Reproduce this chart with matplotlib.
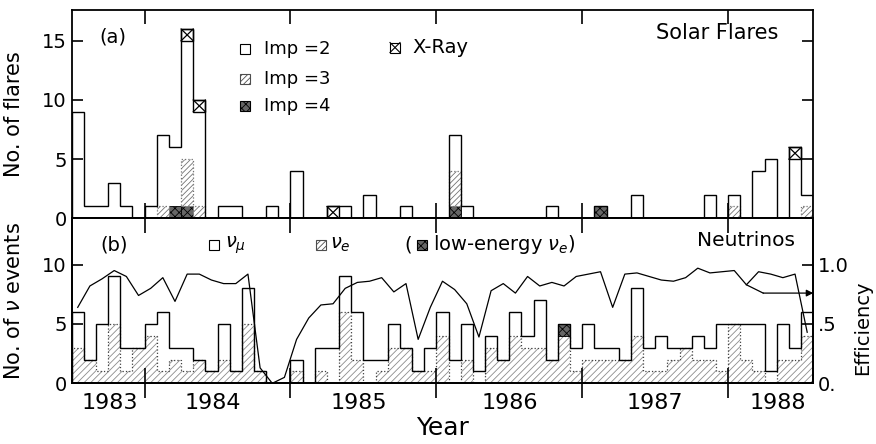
import numpy as np
import matplotlib.pyplot as plt
from matplotlib.patches import Rectangle

plt.rcParams['font.family'] = 'DejaVu Sans'
plt.rcParams['hatch.linewidth'] = 0.6

# monthly bins, Jul 1983 .. Jul 1988
start_year = 1983.5
n_months = 61

# --- (a) solar flares per month (rows: Jul..Jun) ---
imp2 = [9, 1, 1, 3, 1, 0, 1, 6, 5, 10, 8, 0,
        1, 1, 0, 0, 1, 0, 4, 0, 0, 0, 1, 0,
        2, 0, 0, 1, 0, 0, 0, 3, 1, 0, 0, 0,
        0, 0, 0, 1, 0, 0, 0, 0, 0, 0, 2, 0,
        0, 0, 0, 0, 2, 0, 1, 0, 4, 5, 0, 5,
        1]
imp3 = [0, 0, 0, 0, 0, 0, 0, 1, 0, 4, 1, 0,
        0, 0, 0, 0, 0, 0, 0, 0, 0, 0, 0, 0,
        0, 0, 0, 0, 0, 0, 0, 3, 0, 0, 0, 0,
        0, 0, 0, 0, 0, 0, 0, 0, 0, 0, 0, 0,
        0, 0, 0, 0, 0, 0, 1, 0, 0, 0, 0, 0,
        1]
imp4 = [0, 0, 0, 0, 0, 0, 0, 0, 1, 1, 0, 0,
        0, 0, 0, 0, 0, 0, 0, 0, 0, 0, 0, 0,
        0, 0, 0, 0, 0, 0, 0, 1, 0, 0, 0, 0,
        0, 0, 0, 0, 0, 0, 0, 1, 0, 0, 0, 0,
        0, 0, 0, 0, 0, 0, 0, 0, 0, 0, 0, 0,
        0]
xray = [0, 0, 0, 0, 0, 0, 0, 0, 0, 1, 1, 0,
        0, 0, 0, 0, 0, 0, 0, 0, 0, 1, 0, 0,
        0, 0, 0, 0, 0, 0, 0, 0, 0, 0, 0, 0,
        0, 0, 0, 0, 0, 0, 0, 0, 0, 0, 0, 0,
        0, 0, 0, 0, 0, 0, 0, 0, 0, 0, 0, 1,
        0]

# --- (b) neutrino events per month ---
nu_mu = [3, 0, 4, 4, 2, 0, 1, 5, 1, 2, 0, 0,
         3, 0, 3, 0, 0, 0, 1, 0, 2, 3, 3, 4,
         2, 1, 2, 0, 0, 2, 2, 2, 3, 1, 1, 0,
         2, 1, 4, 0, 0, 2, 3, 1, 1, 0, 4, 2,
         3, 1, 0, 2, 1, 4, 0, 3, 4, 1, 3, 1,
         2]
nu_e = [3, 2, 1, 5, 1, 3, 4, 1, 2, 1, 2, 1,
        2, 1, 5, 1, 0, 0, 1, 0, 1, 0, 6, 2,
        0, 1, 3, 3, 1, 1, 4, 0, 2, 0, 3, 2,
        4, 3, 3, 2, 4, 1, 2, 2, 2, 2, 4, 1,
        1, 2, 3, 2, 2, 1, 5, 2, 1, 0, 2, 2,
        4]
nu_e_low = [0] * 40 + [1] + [0] * 20
efficiency = [.64, .82, .88, .95, .90, .74, .80, .89, .69, .92, .92, .87,
              .84, .84, .92, .13, .00, .05, .37, .55, .66, .67, .80, .85,
              .86, .89, .77, .84, .37, .64, .86, .79, .67, .39, .78, .84,
              .76, .90, .82, .85, .82, .90, .92, .94, .64, .92, .93, .90,
              .87, .86, .89, .97, .93, .94, .95, .83, .94, .92, .89, .92,
              .43]

year_ticks = [1984, 1985, 1986, 1987, 1988]
year_labels = ['1983', '1984', '1985', '1986', '1987', '1988']
year_label_pos = [1983.76, 1984.47, 1985.47, 1986.5, 1987.5, 1988.34]

imp2, imp3, imp4, xray = map(np.array, (imp2, imp3, imp4, xray))
nu_mu, nu_e, nu_e_low = map(np.array, (nu_mu, nu_e, nu_e_low))
efficiency = np.array(efficiency)

edges = start_year + np.arange(n_months + 1) / 12.0
left = edges[:-1]
centers = left + 1 / 24.0
w = 1 / 12.0

fig = plt.figure(figsize=(8.76, 4.44), dpi=100)
ax1 = fig.add_axes([0.0818, 0.5083, 0.8466, 0.4691])
ax2 = fig.add_axes([0.0818, 0.1367, 0.8466, 0.3716])

# ---------------- (a) Solar flares ----------------
flare_total = imp2 + imp3 + imp4 + xray
m = imp4 > 0
ax1.bar(left[m], imp4[m], width=w, align='edge', facecolor='0.4',
        edgecolor='black', hatch='xxxx', lw=0.6)
m = imp3 > 0
ax1.bar(left[m], imp3[m], bottom=imp4[m], width=w, align='edge',
        facecolor='white', edgecolor='0.45', hatch='//////', lw=0.9, linestyle=':')
m = xray > 0
ax1.bar(left[m], xray[m], bottom=(flare_total - xray)[m], width=w, align='edge',
        facecolor='white', edgecolor='black', lw=1.0)
for i in np.nonzero(xray)[0]:
    y0, y1 = flare_total[i] - xray[i], flare_total[i]
    ax1.plot([left[i], left[i] + w], [y0, y1], color='black', lw=0.9)
    ax1.plot([left[i], left[i] + w], [y1, y0], color='black', lw=0.9)
ax1.stairs(flare_total, edges, baseline=0, color='black', lw=1.0)

ax1.set_xlim(edges[0], edges[-1])
ax1.set_ylim(0, 17.6)
ax1.set_yticks([0, 5, 10, 15])
ax1.set_xticks(year_ticks)
ax1.tick_params(axis='x', direction='in', top=True, bottom=False,
                labelbottom=False, length=10, width=1.2)
ax1.tick_params(axis='y', direction='in', left=True, right=True,
                length=8, width=1.2, labelsize=14)
ax1.set_ylabel('No. of flares', fontsize=15)
ax1.yaxis.set_label_coords(-0.064, 0.5)

# legend of panel (a)
sq_w, sq_h = 0.0135, 0.048
t = ax1.transAxes
ax1.text(0.0557, 0.87, '(a)', transform=t, fontsize=14, ha='center', va='center')
legend_a = [('Imp =2', 0.815, dict(facecolor='white')),
            ('Imp =3', 0.671, dict(facecolor='white', hatch='//////', edgecolor='0.3')),
            ('Imp =4', 0.537, dict(facecolor='0.4', hatch='xxxx'))]
for lab, yc, kw in legend_a:
    kw.setdefault('edgecolor', 'black')
    ax1.add_patch(Rectangle((0.2337 - sq_w / 2, yc - sq_h / 2), sq_w, sq_h,
                            transform=t, lw=0.8, **kw))
    ax1.text(0.2593, yc, lab, transform=t, fontsize=13, va='center')
ax1.add_patch(Rectangle((0.436 - sq_w / 2, 0.82 - sq_h / 2), sq_w, sq_h,
                        transform=t, facecolor='white', edgecolor='black', lw=0.8))
ax1.plot([0.436 - sq_w / 2, 0.436 + sq_w / 2], [0.82 - sq_h / 2, 0.82 + sq_h / 2],
         transform=t, color='black', lw=0.8)
ax1.plot([0.436 - sq_w / 2, 0.436 + sq_w / 2], [0.82 + sq_h / 2, 0.82 - sq_h / 2],
         transform=t, color='black', lw=0.8)
ax1.text(0.460, 0.82, 'X-Ray', transform=t, fontsize=14, va='center')
ax1.text(0.870, 0.889, 'Solar Flares', transform=t, fontsize=15,
         ha='center', va='center')

# ---------------- (b) Neutrinos ----------------
nu_total = nu_mu + nu_e + nu_e_low
ax2.stairs(nu_e, edges, baseline=0, fill=True, facecolor='white',
           edgecolor='0.55', hatch='/////', lw=0)
ax2.stairs(nu_e, edges, baseline=0, color='0.25', lw=0.9, linestyle=':')
m = nu_e_low > 0
ax2.bar(left[m], nu_e_low[m], bottom=nu_e[m], width=w, align='edge',
        facecolor='0.4', edgecolor='black', hatch='xxxx', lw=0.6)
ax2.stairs(nu_total, edges, baseline=0, color='black', lw=1.0)

ax2.set_xlim(edges[0], edges[-1])
ax2.set_ylim(0, 13.9)
ax2.set_yticks([0, 5, 10])
ax2.set_xticks(year_ticks)
ax2.set_xticks(year_label_pos, minor=True)
ax2.set_xticklabels(year_labels, minor=True)
ax2.tick_params(axis='x', which='major', direction='inout', top=True, bottom=True,
                labelbottom=False, length=22, width=1.2)
ax2.tick_params(axis='x', which='minor', length=0, pad=7, labelsize=16)
ax2.tick_params(axis='y', direction='in', left=True, right=False,
                length=8, width=1.2, labelsize=14)
ax2.set_ylabel(r'No. of $\nu$ events', fontsize=15)
ax2.yaxis.set_label_coords(-0.064, 0.5)
ax2.set_xlabel('Year', fontsize=18, labelpad=2)

ax3 = ax2.twinx()
ax3.plot(centers, efficiency, color='black', lw=0.9)
i55 = 55
ax3.plot([centers[i55], 1988.24], [efficiency[i55], 0.76], color='black', lw=0.9)
ax3.annotate('', xy=(edges[-1], 0.76), xytext=(1988.24, 0.76),
             arrowprops=dict(arrowstyle='-|>', color='black', lw=0.9,
                             shrinkA=0, shrinkB=0, mutation_scale=10))
ax3.set_xlim(edges[0], edges[-1])
ax3.set_ylim(0, 1.39)
ax3.set_yticks([0, 0.5, 1.0])
ax3.set_yticklabels(['0.', '.5', '1.0'])
ax3.tick_params(axis='y', direction='in', length=8, width=1.2, labelsize=14)
ax3.set_ylabel('Efficiency', fontsize=14)
ax3.yaxis.label.set_va('center')
ax3.yaxis.set_label_coords(1.067, 0.335)

t2 = ax2.transAxes
sq_h2 = 10 / 165
ax2.text(0.057, 0.839, '(b)', transform=t2, fontsize=14, ha='center', va='center')
ax2.add_patch(Rectangle((0.192 - sq_w / 2, 0.839 - sq_h2 / 2), sq_w, sq_h2, transform=t2,
                        facecolor='white', edgecolor='black', lw=0.8))
ax2.text(0.2067, 0.839, r'$\nu_\mu$', transform=t2, fontsize=14, va='center')
ax2.add_patch(Rectangle((0.336 - sq_w / 2, 0.839 - sq_h2 / 2), sq_w, sq_h2, transform=t2,
                        facecolor='white', edgecolor='0.3', hatch='//////', lw=0.8))
ax2.text(0.348, 0.839, r'$\nu_e$', transform=t2, fontsize=14, va='center')
ax2.text(0.449, 0.839, '(', transform=t2, fontsize=14, va='center')
ax2.add_patch(Rectangle((0.472 - sq_w / 2, 0.839 - sq_h2 / 2), sq_w, sq_h2, transform=t2,
                        facecolor='0.4', edgecolor='black', hatch='xxxx', lw=0.8))
ax2.text(0.487, 0.839, r'low-energy $\nu_e$)', transform=t2, fontsize=14, va='center')
ax2.text(0.909, 0.868, 'Neutrinos', transform=t2, fontsize=14.5, ha='center', va='center')

for ax in (ax1, ax2, ax3):
    for s in ax.spines.values():
        s.set_linewidth(1.3)

fig.savefig('out.png', dpi=100)
